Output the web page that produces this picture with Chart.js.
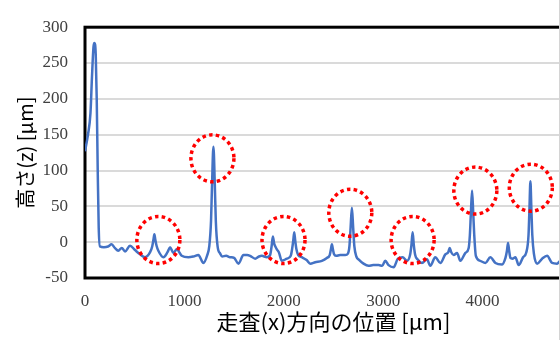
<!DOCTYPE html>
<html>
<head>
<meta charset="utf-8">
<script src="https://cdn.jsdelivr.net/npm/chart.js@4.4.1/dist/chart.umd.min.js"></script>
<style>
  html, body { margin: 0; padding: 0; background: #ffffff; }
  #wrap { position: relative; width: 559px; height: 340px; overflow: hidden; border-right: 1px solid #d4d4d4; }
  canvas { display: block; }
</style>
</head>
<body>
<div id="wrap"><canvas id="c" width="620" height="340"></canvas></div>
<script>
// ---- data ----
const positionsUm = [0,30,55,70,85,95,108,118,128,138,150,190,232,268,300,335,370,403,453,503,554,604,655,676,688,698,708,720,738,789,830,856,889,923,973,1040,1090,1141,1191,1230,1250,1268,1278,1292,1306,1316,1334,1360,1380,1420,1460,1500,1544,1594,1630,1661,1712,1750,1779,1829,1862,1877,1890,1903,1915,1930,1950,1980,2031,2070,2083,2095,2105,2115,2127,2145,2182,2230,2266,2316,2383,2433,2462,2474,2484,2494,2506,2525,2567,2618,2645,2660,2672,2685,2698,2710,2730,2760,2802,2853,2900,2954,2990,3021,3054,3105,3148,3195,3240,3270,3284,3296,3308,3322,3345,3390,3440,3474,3524,3575,3625,3655,3669,3685,3709,3743,3776,3827,3860,3872,3882,3894,3906,3916,3932,3977,4028,4078,4129,4196,4230,4245,4256,4267,4280,4300,4330,4363,4407,4440,4462,4471,4481,4491,4500,4516,4548,4599,4649,4699,4749,4783,4830,4900,5000];
const heightsUm = [127,150,180,230,272,278,262,200,100,20,-6,-7,-6,-3,-8,-12,-8,-13,-5,-11,-17,-21,-14,-6,3,11,3,-5,-12,-21,-14,-7,-15,-10,-19,-21,-20,-18,-29,-18,-6,30,80,133,80,30,-6,-16,-20,-19,-21,-22,-30,-18,-18,-19,-23,-20,-19,-21,-18,-6,8,-2,-6,-10,-14,-26,-23,-19,-10,2,14,2,-10,-18,-21,-25,-30,-28,-26,-22,-18,-10,-3,-10,-17,-19,-18,-18,-16,-6,20,48,20,-6,-20,-25,-30,-33,-32,-32,-33,-26,-32,-35,-23,-21,-26,-18,-4,14,-4,-18,-24,-29,-24,-33,-21,-29,-17,-14,-8,-14,-18,-15,-26,-15,-8,10,40,72,40,10,-19,-26,-29,-21,-29,-31,-22,-12,-1,-12,-22,-23,-21,-32,-21,-14,10,45,85,45,10,-16,-30,-23,-19,-29,-30,-26,-28,-25,-27];
// highlighted peaks (red dotted circles), centre in data units
const circleX = [738, 1282, 1997, 2669, 3296, 3927, 4485];
const circleZ = [3, 117, 3, 41, 3, 72, 76];
// axis ticks
const xTicks = [0, 1000, 2000, 3000, 4000, 5000];
const yTicks = [-50, 0, 50, 100, 150, 200, 250, 300];
const xTitle = '走査(x)方向の位置 [μm]';
const yTitle = '高さ(z) [μm]';

const points = positionsUm.map((x, i) => ({ x: x, y: heightsUm[i] }));

const framePlugin = {
  id: 'frame',
  beforeDatasetsDraw(chart) {
    const { ctx, chartArea: a } = chart;
    ctx.save();
    ctx.strokeStyle = '#000000';
    ctx.lineWidth = 3;
    ctx.strokeRect(a.left, a.top, a.right - a.left, a.bottom - a.top);
    ctx.restore();
  }
};

const circlePlugin = {
  id: 'circles',
  afterDatasetsDraw(chart) {
    const { ctx } = chart;
    const xs = chart.scales.x, ys = chart.scales.y;
    ctx.save();
    ctx.strokeStyle = '#ff0000';
    ctx.lineWidth = 3.5;
    ctx.setLineDash([3.5, 3.3]);
    ctx.lineCap = 'butt';
    circleX.forEach((cx, i) => {
      const px = xs.getPixelForValue(cx);
      const py = ys.getPixelForValue(circleZ[i]);
      ctx.beginPath();
      ctx.ellipse(px, py, 21.5, 23.5, 0, 0, Math.PI * 2);
      ctx.stroke();
    });
    ctx.restore();
  }
};

new Chart(document.getElementById('c'), {
  type: 'line',
  data: {
    datasets: [{
      data: points,
      borderColor: '#4472C4',
      borderWidth: 2.5,
      pointRadius: 0,
      fill: false,
      cubicInterpolationMode: 'monotone'
    }]
  },
  options: {
    responsive: false,
    animation: false,
    devicePixelRatio: 1,
    layout: { padding: { left: 0, right: 38, top: 15, bottom: 0 } },
    plugins: { legend: { display: false }, tooltip: { enabled: false } },
    scales: {
      x: {
        type: 'linear',
        min: 0, max: 5000,
        afterBuildTicks: s => { s.ticks = xTicks.map(v => ({ value: v })); },
        afterFit: s => { s.height = 62; },
        grid: { display: false, drawTicks: false },
        border: { display: false },
        ticks: {
          padding: 13,
          color: '#404040',
          font: { family: 'Liberation Serif', size: 17 },
          maxRotation: 0,
          autoSkip: false,
          callback: v => String(v)
        },
        title: {
          display: true,
          text: xTitle,
          color: '#000000',
          font: { family: 'Noto Sans CJK JP', size: 22 },
          padding: { top: 0, bottom: 5 }
        }
      },
      y: {
        type: 'linear',
        min: -50, max: 300,
        afterBuildTicks: s => { s.ticks = yTicks.map(v => ({ value: v })); },
        afterFit: s => { s.width = 85; },
        grid: { color: '#dadada', lineWidth: 2, drawTicks: false },
        border: { display: false },
        ticks: {
          padding: 17,
          color: '#404040',
          font: { family: 'Liberation Serif', size: 17 },
          callback: v => String(v)
        },
        title: {
          display: true,
          text: yTitle,
          color: '#000000',
          font: { family: 'Noto Sans CJK JP', size: 20 },
          padding: { top: 13, bottom: 0 }
        }
      }
    }
  },
  plugins: [framePlugin, circlePlugin]
});
</script>
</body>
</html>
